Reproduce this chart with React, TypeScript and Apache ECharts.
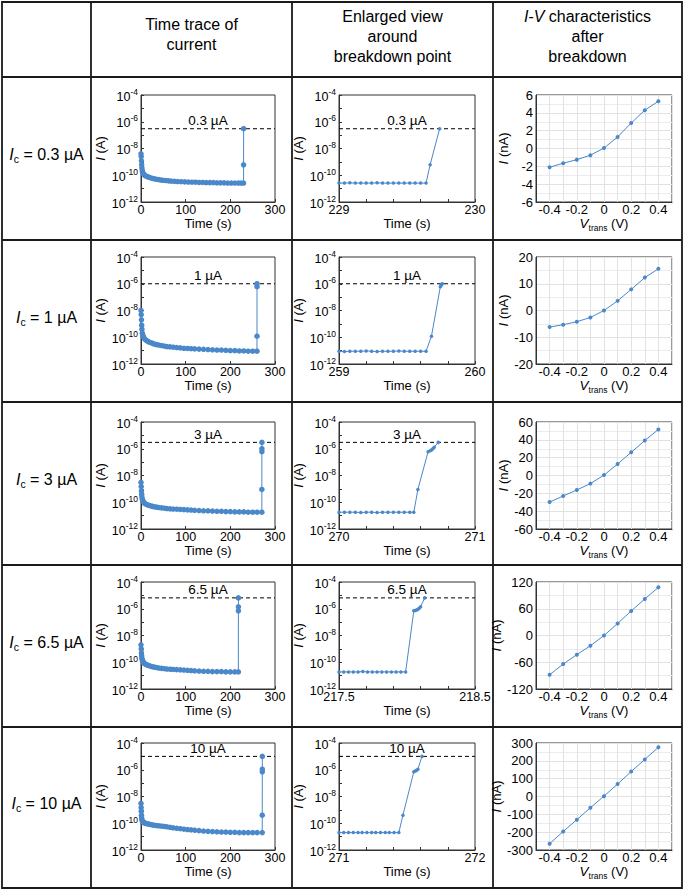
import React, { useEffect, useRef } from 'react';
import * as echarts from 'echarts';

const FONT = '"Liberation Sans", Arial, Helvetica, sans-serif';
const BLUE = '#4a88c9';
const AXIS = '#333';

// ---------- data ----------
const rowCurrents = ['0.3', '1', '3', '6.5', '10'];
const compliance = [3e-7, 1e-6, 3e-6, 6.5e-6, 1e-5];
const complianceLabels = ['0.3 µA', '1 µA', '3 µA', '6.5 µA', '10 µA'];
const timeMin = 0;
const timeMax = 300;
const zoomStart = [229, 259, 270, 217.5, 271];
const zoomEnd = [230, 260, 271, 218.5, 272];

const trace1: [number, number][] = [
  [0, 4e-9], [0.5, 2.5e-9], [1, 1.2e-9], [1.5, 6e-10], [2, 3.5e-10], [3, 2.2e-10], [4, 1.6e-10], [5, 1.3e-10],
  [7, 1.1e-10], [9, 9.5e-11], [12, 8.5e-11], [15, 7.6e-11], [18, 7e-11], [22, 6.3e-11], [26, 5.8e-11], [30, 5.4e-11],
  [35, 5e-11], [40, 4.7e-11], [45, 4.4e-11], [50, 4.2e-11], [56, 4e-11], [62, 3.8e-11], [68, 3.6e-11], [75, 3.5e-11],
  [82, 3.4e-11], [90, 3.3e-11], [98, 3.2e-11], [106, 3.1e-11], [114, 3e-11], [122, 3e-11], [130, 2.9e-11], [138, 2.9e-11],
  [146, 2.8e-11], [154, 2.8e-11], [162, 2.8e-11], [170, 2.7e-11], [178, 2.7e-11], [186, 2.7e-11], [194, 2.6e-11],
  [202, 2.6e-11], [210, 2.6e-11], [218, 2.6e-11], [224, 2.6e-11], [229.64, 2.6e-11], [229.67, 6e-10], [229.74, 3e-7],
];
const trace2: [number, number][] = [
  [0, 1e-8], [0.5, 5e-9], [1, 2e-9], [1.5, 8e-10], [2, 4e-10], [3, 2e-10], [4, 1.4e-10], [5, 1.1e-10], [7, 8.5e-11],
  [9, 7e-11], [12, 5.8e-11], [15, 5e-11], [18, 4.4e-11], [22, 3.9e-11], [26, 3.5e-11], [30, 3.1e-11], [35, 2.8e-11],
  [40, 2.6e-11], [46, 2.4e-11], [52, 2.2e-11], [58, 2e-11], [65, 1.9e-11], [72, 1.8e-11], [80, 1.7e-11], [88, 1.6e-11],
  [96, 1.5e-11], [104, 1.45e-11], [112, 1.4e-11], [120, 1.35e-11], [130, 1.3e-11], [140, 1.25e-11], [150, 1.2e-11],
  [160, 1.15e-11], [170, 1.1e-11], [180, 1.1e-11], [190, 1.05e-11], [200, 1e-11], [210, 1e-11], [220, 9.5e-12],
  [230, 9.5e-12], [240, 9e-12], [250, 9e-12], [259.64, 9e-12], [259.68, 1.2e-10], [259.745, 6e-7], [259.76, 1e-6],
];
const trace3: [number, number][] = [
  [0, 3e-9], [0.5, 1.5e-9], [1, 7e-10], [1.5, 4e-10], [2, 2.5e-10], [3, 1.7e-10], [4, 1.3e-10], [5, 1.1e-10], [7, 9e-11],
  [9, 8e-11], [12, 7e-11], [15, 6.3e-11], [18, 5.8e-11], [22, 5.3e-11], [26, 4.9e-11], [30, 4.6e-11], [35, 4.3e-11],
  [40, 4e-11], [46, 3.8e-11], [52, 3.6e-11], [58, 3.4e-11], [65, 3.2e-11], [72, 3.1e-11], [80, 3e-11], [88, 2.9e-11],
  [96, 2.8e-11], [104, 2.7e-11], [112, 2.6e-11], [120, 2.5e-11], [130, 2.4e-11], [140, 2.3e-11], [150, 2.3e-11],
  [160, 2.2e-11], [170, 2.1e-11], [180, 2.1e-11], [190, 2e-11], [200, 2e-11], [210, 1.9e-11], [220, 1.9e-11],
  [230, 1.9e-11], [240, 1.8e-11], [250, 1.8e-11], [260, 1.8e-11], [270.55, 1.8e-11], [270.58, 9e-10], [270.655, 6e-7],
  [270.69, 1e-6], [270.73, 3e-6],
];
const trace4: [number, number][] = [
  [0, 2e-9], [0.5, 1e-9], [1, 5e-10], [1.5, 3e-10], [2, 2e-10], [3, 1.5e-10], [4, 1.2e-10], [5, 1e-10], [7, 8.5e-11],
  [9, 7.5e-11], [12, 6.6e-11], [15, 6e-11], [18, 5.5e-11], [22, 5e-11], [26, 4.6e-11], [30, 4.3e-11], [35, 4e-11],
  [40, 3.7e-11], [46, 3.5e-11], [52, 3.3e-11], [58, 3.1e-11], [65, 3e-11], [72, 2.9e-11], [80, 2.8e-11], [88, 2.7e-11],
  [96, 2.6e-11], [104, 2.5e-11], [112, 2.4e-11], [120, 2.3e-11], [130, 2.2e-11], [140, 2.1e-11], [150, 2.1e-11],
  [160, 2e-11], [170, 2e-11], [180, 2e-11], [190, 1.9e-11], [200, 1.9e-11], [210, 1.9e-11], [217.99, 1.9e-11],
  [218.05, 7e-7], [218.1, 1.4e-6], [218.13, 6.5e-6],
];
const trace5: [number, number][] = [
  [0, 3e-9], [0.3, 1.5e-9], [0.6, 8e-10], [1, 4e-10], [1.5, 2.5e-10], [2, 1.8e-10], [3, 1.5e-10], [4, 1.3e-10],
  [5, 1.2e-10], [7, 1.1e-10], [9, 1e-10], [12, 9.5e-11], [15, 9e-11], [18, 8.5e-11], [22, 8e-11], [26, 7.5e-11],
  [30, 7e-11], [35, 6.7e-11], [40, 6.4e-11], [46, 6.1e-11], [52, 5.8e-11], [58, 5.4e-11], [65, 5e-11], [72, 4.6e-11],
  [80, 4.2e-11], [88, 3.9e-11], [96, 3.6e-11], [104, 3.4e-11], [112, 3.2e-11], [120, 3e-11], [130, 2.8e-11],
  [140, 2.6e-11], [150, 2.5e-11], [160, 2.4e-11], [170, 2.3e-11], [180, 2.2e-11], [190, 2.2e-11], [200, 2.1e-11],
  [210, 2.1e-11], [220, 2e-11], [230, 2e-11], [240, 2e-11], [250, 2e-11], [260, 2e-11], [271.44, 2e-11],
  [271.47, 4e-10], [271.55, 7e-7], [271.58, 1.1e-6], [271.61, 1e-5],
];

const zoom1: [number, number][] = [
  [229.0, 2.6e-11], [229.04, 2.6e-11], [229.08, 2.7e-11], [229.12, 2.6e-11], [229.16, 2.6e-11], [229.2, 2.6e-11],
  [229.24, 2.6e-11], [229.28, 2.7e-11], [229.32, 2.6e-11], [229.36, 2.6e-11], [229.4, 2.6e-11], [229.44, 2.6e-11],
  [229.48, 2.6e-11], [229.52, 2.6e-11], [229.56, 2.6e-11], [229.6, 2.6e-11], [229.64, 2.6e-11], [229.67, 6e-10],
  [229.74, 3e-7],
];
const zoom2: [number, number][] = [
  [259.0, 9e-12], [259.04, 8.5e-12], [259.08, 9e-12], [259.12, 9e-12], [259.16, 9e-12], [259.2, 9.5e-12],
  [259.24, 9e-12], [259.28, 8.5e-12], [259.32, 9e-12], [259.36, 9e-12], [259.4, 9e-12], [259.44, 9.5e-12],
  [259.48, 9e-12], [259.52, 9e-12], [259.56, 9e-12], [259.6, 9e-12], [259.64, 9e-12], [259.68, 1.2e-10],
  [259.745, 6e-7], [259.75, 7.5e-7], [259.755, 9e-7], [259.76, 1e-6],
];
const zoom3: [number, number][] = [
  [270.0, 1.8e-11], [270.04, 1.8e-11], [270.08, 1.8e-11], [270.12, 1.8e-11], [270.16, 1.7e-11], [270.2, 1.8e-11],
  [270.24, 1.8e-11], [270.28, 1.7e-11], [270.32, 1.8e-11], [270.36, 1.8e-11], [270.4, 1.8e-11], [270.44, 1.8e-11],
  [270.48, 1.8e-11], [270.52, 1.8e-11], [270.55, 1.8e-11], [270.58, 9e-10], [270.655, 6e-7], [270.67, 7e-7],
  [270.68, 8e-7], [270.69, 1e-6], [270.7, 1.3e-6], [270.73, 3e-6],
];
const zoom4: [number, number][] = [
  [217.5, 1.9e-11], [217.535, 1.9e-11], [217.57, 1.9e-11], [217.605, 1.9e-11], [217.64, 1.9e-11], [217.675, 2e-11],
  [217.71, 1.9e-11], [217.745, 1.9e-11], [217.78, 1.9e-11], [217.815, 1.9e-11], [217.85, 1.9e-11], [217.885, 1.9e-11],
  [217.92, 1.9e-11], [217.955, 1.9e-11], [217.99, 1.9e-11], [218.05, 7e-7], [218.06, 7.5e-7], [218.07, 8e-7],
  [218.08, 9e-7], [218.09, 1.1e-6], [218.1, 1.4e-6], [218.13, 6.5e-6],
];
const zoom5: [number, number][] = [
  [271.0, 2e-11], [271.035, 2e-11], [271.07, 2e-11], [271.105, 2e-11], [271.14, 2e-11], [271.17, 2e-11],
  [271.205, 2e-11], [271.24, 2e-11], [271.27, 2e-11], [271.305, 2e-11], [271.34, 2e-11], [271.37, 2e-11],
  [271.405, 2e-11], [271.44, 2e-11], [271.47, 4e-10], [271.55, 7e-7], [271.56, 8e-7], [271.57, 9e-7],
  [271.58, 1.1e-6], [271.61, 1e-5],
];

const vTrans = [-0.4, -0.3, -0.2, -0.1, 0, 0.1, 0.2, 0.3, 0.4];
const iv1 = [-2.1, -1.65, -1.25, -0.75, 0.05, 1.3, 2.85, 4.3, 5.3];
const iv2 = [-6.2, -5.3, -4.2, -2.6, 0, 3.6, 7.9, 12.3, 15.6];
const iv3 = [-29.8, -23, -16.2, -9.1, 0.5, 12.8, 26, 39.2, 51.7];
const iv4 = [-88, -64, -43, -23, 0, 27, 55, 82, 108];
const iv5 = [-265, -196, -130, -63, 2, 70, 140, 208, 276];
const ivMax = [6, 20, 60, 120, 300];
const ivStep = [2, 10, 20, 60, 100];

const traces = [trace1, trace2, trace3, trace4, trace5];
const zooms = [zoom1, zoom2, zoom3, zoom4, zoom5];
const ivs = [iv1, iv2, iv3, iv4, iv5];

// ---------- layout ----------
const W = 685;
const H = 891;
const TBL = { x1: 2, y1: 2, x2: 682, y2: 888 };
const colLines = [91, 292, 493];
const rowLines = [77, 240, 402, 565, 727];
const plotTop = [95, 257, 422, 582, 743];
const PLOT_H = 107;
const colLeft = [141, 339, 536];
const colW = [134, 136, 136];

const tickFont = 12.5;
const nameFont = 13;
const cellFont = 16;

const expRich = {
  b: { fontSize: tickFont, fontFamily: FONT, color: '#000', lineHeight: 16, verticalAlign: 'bottom' },
  s: { fontSize: 8.5, fontFamily: FONT, color: '#000', lineHeight: 9, verticalAlign: 'top' },
};
const nameRich = {
  i: { fontSize: nameFont + 0.5, fontFamily: FONT, fontStyle: 'italic', color: '#000', lineHeight: 17 },
  n: { fontSize: nameFont, fontFamily: FONT, color: '#000', lineHeight: 17 },
  s: { fontSize: 8.5, fontFamily: FONT, color: '#000', lineHeight: 8, verticalAlign: 'bottom' },
};

function logLabel(v: number) {
  const e = Math.round(Math.log10(v));
  if (e % 2 !== 0) return '';
  return `{b|10}{s|${e}}`;
}

function buildOption() {
  const grids: any[] = [];
  const xAxes: any[] = [];
  const yAxes: any[] = [];
  const series: any[] = [];
  const tickAxes: any[] = [];

  const axisLine = { show: true, onZero: false, lineStyle: { color: AXIS, width: 1 } };
  const tickIn = { show: true, inside: true, length: 3, lineStyle: { color: AXIS, width: 1 } };
  const lbl = { color: '#000', fontSize: tickFont, fontFamily: FONT, margin: 3 };
  const xlbl = { ...lbl, margin: 1 };

  const logY = (gi: number) => ({
    type: 'log', logBase: 10, gridIndex: gi, min: 1e-12, max: 1e-4,
    axisLine, axisTick: tickIn,
    axisLabel: { ...lbl, formatter: logLabel, rich: expRich, interval: 0 },
    splitLine: { show: false },
    name: '{i|I}{n| (A)}', nameLocation: 'middle', nameRotate: 90, nameGap: 31,
    nameTextStyle: { rich: nameRich },
  });

  // dashed compliance line drawn as its own series, label on the centre point
  const complianceSeries = (r: number, axisIdx: number, x0: number, x1: number) => ({
    type: 'line', xAxisIndex: axisIdx, yAxisIndex: axisIdx, silent: true, z: 1,
    symbol: 'circle', symbolSize: 0, showSymbol: true,
    lineStyle: { type: [4, 3], color: '#000', width: 1 },
    itemStyle: { color: '#000' },
    label: { show: false },
    data: [
      [x0, compliance[r]],
      {
        value: [(x0 + x1) / 2, compliance[r]],
        label: {
          show: true, position: 'top', distance: 1, formatter: complianceLabels[r],
          color: '#000', fontSize: 13.5, fontFamily: FONT,
        },
      },
      [x1, compliance[r]],
    ],
  });

  for (let r = 0; r < 5; r++) {
    for (let c = 0; c < 3; c++) {
      grids.push({
        left: colLeft[c], top: plotTop[r], width: colW[c], height: PLOT_H,
        show: true, borderColor: AXIS, borderWidth: 1, backgroundColor: 'transparent',
      });
    }
    const g0 = 3 * r, g1 = 3 * r + 1, g2 = 3 * r + 2;

    // time trace
    xAxes.push({
      type: 'value', gridIndex: g0, min: timeMin, max: timeMax, interval: 100,
      axisLine, axisTick: tickIn, axisLabel: { ...xlbl, interval: 0 }, splitLine: { show: false },
      name: '{n|Time (s)}', nameLocation: 'middle', nameGap: 11, nameTextStyle: { rich: nameRich },
    });
    yAxes.push(logY(g0));
    series.push(complianceSeries(r, g0, timeMin, timeMax));
    series.push({
      type: 'line', xAxisIndex: g0, yAxisIndex: g0, data: traces[r], silent: true, z: 3,
      symbol: 'circle', symbolSize: 5.5, showSymbol: true,
      lineStyle: { width: 1, color: BLUE }, itemStyle: { color: BLUE },
    });

    // enlarged view
    const a = zoomStart[r], b = zoomEnd[r];
    xAxes.push({
      type: 'value', gridIndex: g1, min: a, max: b, interval: 1,
      axisLine, axisTick: { show: false },
      axisLabel: {
        ...xlbl, interval: 0,
        formatter: (v: number) => (Math.abs(v - a) < 1e-6 || Math.abs(v - b) < 1e-6 ? String(v) : ''),
      },
      splitLine: { show: false },
      name: '{n|Time (s)}', nameLocation: 'middle', nameGap: 13, nameTextStyle: { rich: nameRich },
    });
    tickAxes.push({
      type: 'value', gridIndex: g1, min: 0, max: 1, interval: 0.2, position: 'bottom',
      axisLine: { show: false, onZero: false }, axisTick: tickIn, axisLabel: { show: false },
      splitLine: { show: false },
    });
    yAxes.push(logY(g1));
    series.push(complianceSeries(r, g1, a, b));
    series.push({
      type: 'line', xAxisIndex: g1, yAxisIndex: g1, data: zooms[r], silent: true, z: 3,
      symbol: 'circle', symbolSize: 3.5, showSymbol: true,
      lineStyle: { width: 1, color: BLUE }, itemStyle: { color: BLUE },
    });

    // I-V
    xAxes.push({
      type: 'value', gridIndex: g2, min: -0.5, max: 0.5, interval: 0.1,
      axisLine, axisTick: { show: false },
      axisLabel: {
        ...xlbl, fontSize: 13, interval: 0,
        formatter: (v: number) => {
          const k = Math.round(v * 10);
          return k % 2 === 0 && Math.abs(k) < 5 ? String(k / 10) : '';
        },
      },
      splitLine: { show: true, lineStyle: { color: '#e2e2e2', width: 1 } },
      name: '{i|V}{s|trans}{n| (V)}', nameLocation: 'middle', nameGap: 12, nameTextStyle: { rich: nameRich },
    });
    yAxes.push({
      type: 'value', gridIndex: g2, min: -ivMax[r], max: ivMax[r], interval: ivStep[r],
      axisLine, axisTick: { show: false },
      axisLabel: { ...lbl, fontSize: 13, interval: 0 },
      splitLine: { show: true, lineStyle: { color: '#e2e2e2', width: 1 } },
      minorTick: { show: false, splitNumber: 2 },
      minorSplitLine: { show: true, lineStyle: { color: '#ececec', width: 1 } },
      name: '{i|I}{n| (nA)}', nameLocation: 'middle', nameRotate: 90, nameGap: 24,
      nameTextStyle: { rich: nameRich },
    });
    series.push({
      type: 'line', xAxisIndex: g2, yAxisIndex: g2, silent: true,
      data: vTrans.map((v, i) => [v, ivs[r][i]]),
      symbol: 'circle', symbolSize: 4, showSymbol: true,
      lineStyle: { width: 1, color: BLUE }, itemStyle: { color: BLUE },
    });
  }
  for (const t of tickAxes) xAxes.push(t);

  // ---------- table graphics ----------
  const line = (x1: number, y1: number, x2: number, y2: number) => ({
    type: 'line', silent: true, shape: { x1, y1, x2, y2 },
    style: { stroke: '#1a1a1a', lineWidth: 1.8 },
  });
  const graphics: any[] = [];
  graphics.push({
    type: 'rect', silent: true,
    shape: { x: TBL.x1, y: TBL.y1, width: TBL.x2 - TBL.x1, height: TBL.y2 - TBL.y1 },
    style: { stroke: '#1a1a1a', fill: 'none', lineWidth: 1.8 },
  });
  for (const x of colLines) graphics.push(line(x, TBL.y1, x, TBL.y2));
  for (const y of rowLines) graphics.push(line(TBL.x1, y, TBL.x2, y));

  const txtRich = {
    i: { fontSize: cellFont, fontFamily: FONT, fontStyle: 'italic', fill: '#000', lineHeight: 20 },
    n: { fontSize: cellFont, fontFamily: FONT, fill: '#000', lineHeight: 20 },
    c: { fontSize: 10.5, fontFamily: FONT, fill: '#000', lineHeight: 10, verticalAlign: 'bottom' },
  };
  const txt = (x: number, y: number, text: string) => ({
    type: 'text', silent: true, x, y,
    style: {
      text, align: 'center', verticalAlign: 'middle', fill: '#000',
      fontSize: cellFont, fontFamily: FONT, rich: txtRich,
    },
  });
  const c2 = (colLines[0] + colLines[1]) / 2;
  const c3 = (colLines[1] + colLines[2]) / 2;
  const c4 = (colLines[2] + TBL.x2) / 2;
  graphics.push(txt(c2, 24, '{n|Time trace of}'));
  graphics.push(txt(c2, 44, '{n|current}'));
  graphics.push(txt(c3, 16, '{n|Enlarged view}'));
  graphics.push(txt(c3, 36, '{n|around}'));
  graphics.push(txt(c3, 56, '{n|breakdown point}'));
  graphics.push(txt(c4, 16, '{i|I}{n|-}{i|V}{n| characteristics}'));
  graphics.push(txt(c4, 36, '{n|after}'));
  graphics.push(txt(c4, 56, '{n|breakdown}'));

  const c1 = (TBL.x1 + colLines[0]) / 2;
  const rowEdges = [...rowLines, TBL.y2];
  for (let r = 0; r < 5; r++) {
    const cy = (rowEdges[r] + rowEdges[r + 1]) / 2 - 4;
    graphics.push(txt(c1, cy, `{i|I}{c|c}{n| = ${rowCurrents[r]} µA}`));
  }

  return {
    animation: false,
    textStyle: { fontFamily: FONT },
    grid: grids,
    xAxis: xAxes,
    yAxis: yAxes,
    series,
    graphic: graphics,
  };
}

export default function App() {
  const ref = useRef<HTMLDivElement>(null);
  useEffect(() => {
    if (!ref.current) return;
    const chart = echarts.init(ref.current, undefined, { renderer: 'svg', width: W, height: H });
    chart.setOption(buildOption() as any);
    return () => chart.dispose();
  }, []);
  return (
    <div
      ref={ref}
      style={{ position: 'absolute', left: 0, top: 0, width: W, height: H, background: '#fff' }}
    />
  );
}
